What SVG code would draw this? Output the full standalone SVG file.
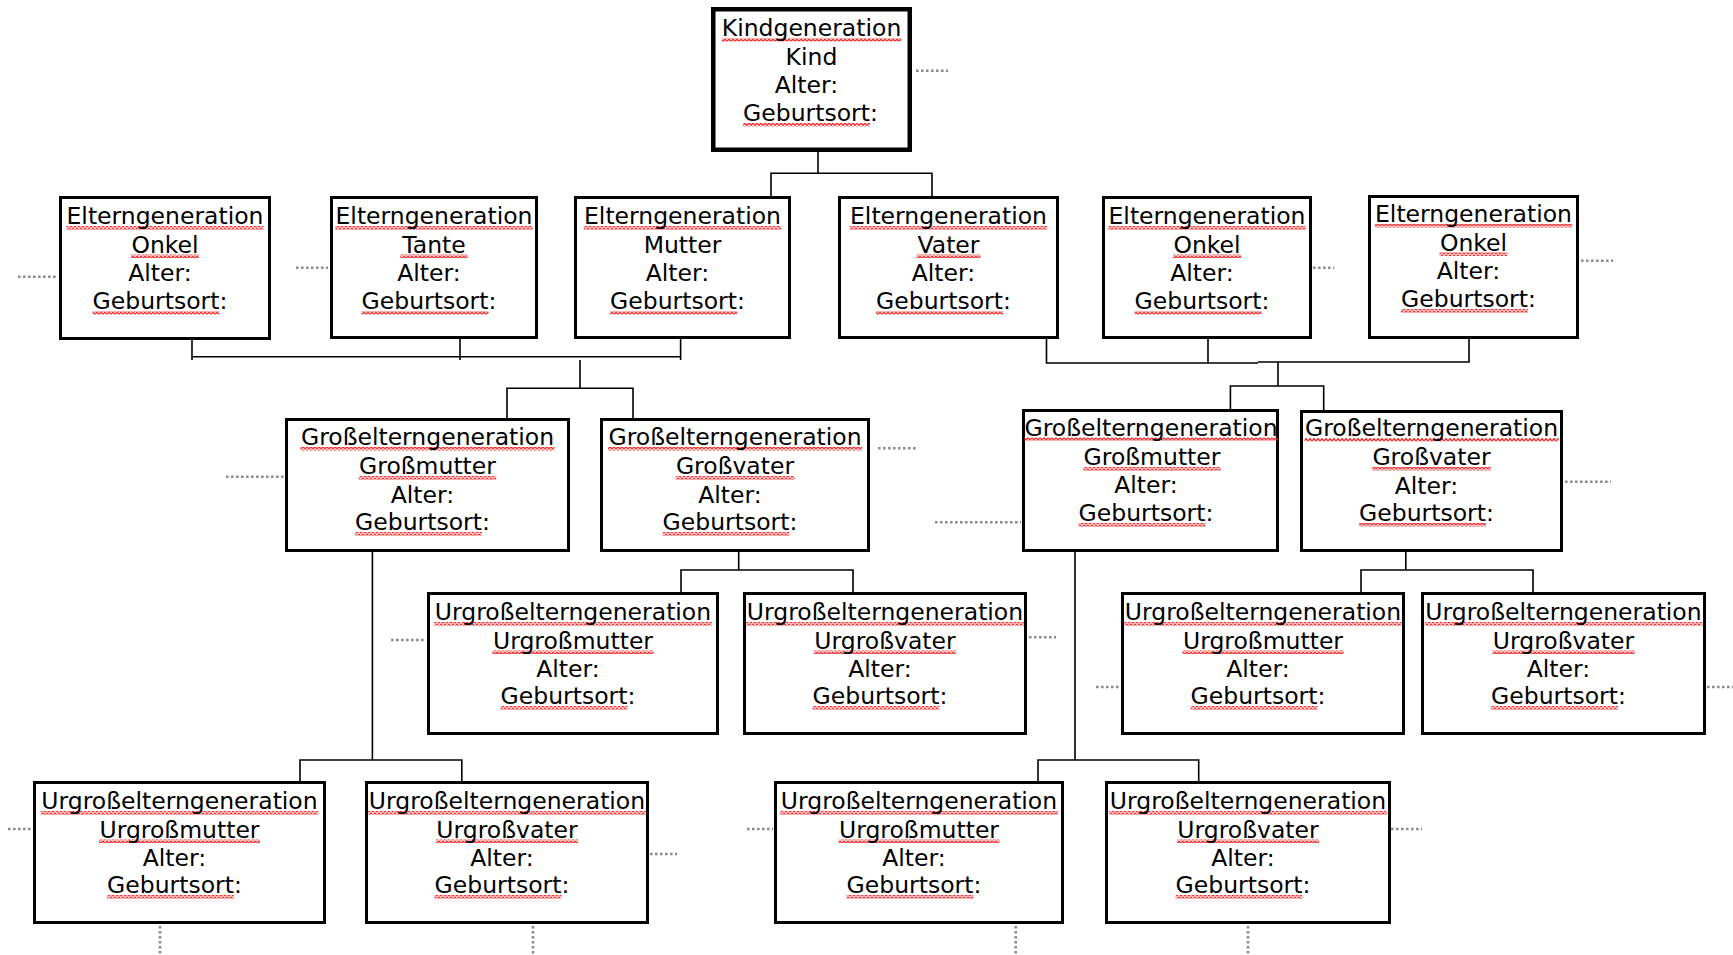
<svg xmlns="http://www.w3.org/2000/svg" width="1733" height="955" viewBox="0 0 1733 955">
<defs>
  <pattern id="wave" patternUnits="userSpaceOnUse" width="4" height="3.5">
    <polyline points="0,3 2,0.6 4,3" fill="none" stroke="#f01c1c" stroke-width="1.25"/>
  </pattern>
</defs>
<style>
.bg{fill:#fff}
.box{fill:#fff;stroke:#000;stroke-width:3}
.kbox{fill:#fff;stroke:#000;stroke-width:4.5}
.t{font-family:"DejaVu Sans",Verdana,sans-serif;font-size:23.5px;text-anchor:middle;fill:#000}
.w{fill:url(#wave)}
.con{fill:none;stroke:#000;stroke-width:1.6}
.dot{fill:none;stroke:#8c8c8c;stroke-width:2.6;stroke-dasharray:2.6 2.4}
</style>
<rect class="bg" x="0" y="0" width="1733" height="955"/>

<g id="connectors">
  <path class="con" d="M818 152V173.3M771 196V173.3H932V196"/>
  <path class="con" d="M192 340V360M460 339V360M680.6 339V360M192 356.7H680.6M580 360V388.3M507 418V388.3H633V418"/>
  <path class="con" d="M1046.5 339V363H1258M1208 339V363M1258 362H1469V339M1278 362V386M1230.4 410V386H1323.7V410"/>
  <path class="con" d="M372.4 552V760M300 781V760H461.8V781"/>
  <path class="con" d="M738.7 552V570M681 592V570H853V592"/>
  <path class="con" d="M1075 552V760M1038 781V760H1198.7V781"/>
  <path class="con" d="M1405.8 552V570M1361 592V570H1533V592"/>
</g>

<g id="dotted">
  <path class="dot" d="M916 70.7H948"/>
  <path class="dot" d="M18 276.7H58"/>
  <path class="dot" d="M296 267.7H328"/>
  <path class="dot" d="M1313 267.7H1334"/>
  <path class="dot" d="M1581 260.7H1613"/>
  <path class="dot" d="M226 476.7H284"/>
  <path class="dot" d="M878 448.3H917"/>
  <path class="dot" d="M935 522.3H1021"/>
  <path class="dot" d="M1565 481.7H1611"/>
  <path class="dot" d="M391 640H426"/>
  <path class="dot" d="M1029 637.3H1056"/>
  <path class="dot" d="M1096 687H1120"/>
  <path class="dot" d="M1707 687H1733"/>
  <path class="dot" d="M8 829H33"/>
  <path class="dot" d="M650 854H677"/>
  <path class="dot" d="M747 829H773"/>
  <path class="dot" d="M1391 829H1422"/>
  <path class="dot" d="M160 926V955"/>
  <path class="dot" d="M533 926V955"/>
  <path class="dot" d="M1015.7 926V955"/>
  <path class="dot" d="M1248 926V955"/>
</g>

<g id="kind" transform="translate(711,7)">
  <rect class="kbox" x="2.25" y="2.25" width="196.5" height="140.5"/>
  <rect class="w" x="10.7" y="31" width="179.6" height="3.5"/>
  <rect class="w" x="32.1" y="116" width="126.9" height="3.5"/>
  <text class="t" x="100.5" y="29">Kindgeneration</text>
  <text class="t" x="100.5" y="57.5">Kind</text>
  <text class="t" x="95.5" y="86">Alter:</text>
  <text class="t" x="99.5" y="114">Geburtsort:</text>
</g>

<g id="onkel1" transform="translate(59,196)">
  <rect class="box" x="1.5" y="1.5" width="209" height="141"/>
  <rect class="w" x="7.3" y="30" width="197.4" height="3.5"/>
  <rect class="w" x="72" y="58.5" width="68" height="3.5"/>
  <rect class="w" x="33.6" y="115" width="126.9" height="3.5"/>
  <text class="t" x="106" y="28">Elterngeneration</text>
  <text class="t" x="106" y="56.5">Onkel</text>
  <text class="t" x="101" y="85">Alter:</text>
  <text class="t" x="101" y="113">Geburtsort:</text>
</g>

<g id="tante" transform="translate(330,196)">
  <rect class="box" x="1.5" y="1.5" width="205" height="140"/>
  <rect class="w" x="5.3" y="30" width="197.4" height="3.5"/>
  <rect class="w" x="70.35" y="58.5" width="67.3" height="3.5"/>
  <rect class="w" x="31.6" y="115" width="126.9" height="3.5"/>
  <text class="t" x="104" y="28">Elterngeneration</text>
  <text class="t" x="104" y="56.5">Tante</text>
  <text class="t" x="99" y="85">Alter:</text>
  <text class="t" x="99" y="113">Geburtsort:</text>
</g>

<g id="mutter" transform="translate(574,196)">
  <rect class="box" x="1.5" y="1.5" width="214" height="140"/>
  <rect class="w" x="9.8" y="30" width="197.4" height="3.5"/>
  <rect class="w" x="36.1" y="115" width="126.9" height="3.5"/>
  <text class="t" x="108.5" y="28">Elterngeneration</text>
  <text class="t" x="108.5" y="56.5">Mutter</text>
  <text class="t" x="103.5" y="85">Alter:</text>
  <text class="t" x="103.5" y="113">Geburtsort:</text>
</g>

<g id="vater" transform="translate(838,196)">
  <rect class="box" x="1.5" y="1.5" width="218" height="140"/>
  <rect class="w" x="11.8" y="30" width="197.4" height="3.5"/>
  <rect class="w" x="78.6" y="58.5" width="63.8" height="3.5"/>
  <rect class="w" x="38.1" y="115" width="126.9" height="3.5"/>
  <text class="t" x="110.5" y="28">Elterngeneration</text>
  <text class="t" x="110.5" y="56.5">Vater</text>
  <text class="t" x="105.5" y="85">Alter:</text>
  <text class="t" x="105.5" y="113">Geburtsort:</text>
</g>

<g id="onkel2" transform="translate(1102,196)">
  <rect class="box" x="1.5" y="1.5" width="207" height="140"/>
  <rect class="w" x="6.3" y="30" width="197.4" height="3.5"/>
  <rect class="w" x="71" y="58.5" width="68" height="3.5"/>
  <rect class="w" x="32.6" y="115" width="126.9" height="3.5"/>
  <text class="t" x="105" y="28">Elterngeneration</text>
  <text class="t" x="105" y="56.5">Onkel</text>
  <text class="t" x="100" y="85">Alter:</text>
  <text class="t" x="100" y="113">Geburtsort:</text>
</g>

<g id="onkel3" transform="translate(1368,195)">
  <rect class="box" x="1.5" y="1.5" width="208" height="141"/>
  <rect class="w" x="6.8" y="29" width="197.4" height="3.5"/>
  <rect class="w" x="71.5" y="57.5" width="68" height="3.5"/>
  <rect class="w" x="33.1" y="114" width="126.9" height="3.5"/>
  <text class="t" x="105.5" y="27">Elterngeneration</text>
  <text class="t" x="105.5" y="55.5">Onkel</text>
  <text class="t" x="100.5" y="84">Alter:</text>
  <text class="t" x="100.5" y="112">Geburtsort:</text>
</g>

<g id="grossmutter-l" transform="translate(285,418)">
  <rect class="box" x="1.5" y="1.5" width="282" height="131"/>
  <rect class="w" x="15.45" y="29" width="254.1" height="3.5"/>
  <rect class="w" x="73.8" y="58" width="137.4" height="3.5"/>
  <rect class="w" x="70.1" y="114" width="126.9" height="3.5"/>
  <text class="t" x="142.5" y="27">Großelterngeneration</text>
  <text class="t" x="142.5" y="56">Großmutter</text>
  <text class="t" x="137.5" y="84.5">Alter:</text>
  <text class="t" x="137.5" y="112">Geburtsort:</text>
</g>

<g id="grossvater-l" transform="translate(600,418)">
  <rect class="box" x="1.5" y="1.5" width="267" height="131"/>
  <rect class="w" x="7.95" y="29" width="254.1" height="3.5"/>
  <rect class="w" x="75.65" y="58" width="118.7" height="3.5"/>
  <rect class="w" x="62.6" y="114" width="126.9" height="3.5"/>
  <text class="t" x="135" y="27">Großelterngeneration</text>
  <text class="t" x="135" y="56">Großvater</text>
  <text class="t" x="130" y="84.5">Alter:</text>
  <text class="t" x="130" y="112">Geburtsort:</text>
</g>

<g id="grossmutter-r" transform="translate(1022,409)">
  <rect class="box" x="1.5" y="1.5" width="254" height="140"/>
  <rect class="w" x="1.95" y="28.5" width="254.1" height="3.5"/>
  <rect class="w" x="61.3" y="58" width="137.4" height="3.5"/>
  <rect class="w" x="56.6" y="114" width="126.9" height="3.5"/>
  <text class="t" x="129" y="26.5">Großelterngeneration</text>
  <text class="t" x="130" y="56">Großmutter</text>
  <text class="t" x="124" y="84">Alter:</text>
  <text class="t" x="124" y="112">Geburtsort:</text>
</g>

<g id="grossvater-r" transform="translate(1300,410)">
  <rect class="box" x="1.5" y="1.5" width="260" height="139"/>
  <rect class="w" x="4.45" y="28" width="254.1" height="3.5"/>
  <rect class="w" x="72.15" y="57" width="118.7" height="3.5"/>
  <rect class="w" x="59.1" y="113" width="126.9" height="3.5"/>
  <text class="t" x="131.5" y="26">Großelterngeneration</text>
  <text class="t" x="131.5" y="55">Großvater</text>
  <text class="t" x="126.5" y="83.5">Alter:</text>
  <text class="t" x="126.5" y="111">Geburtsort:</text>
</g>

<g id="urgrossmutter-1" transform="translate(427,592)">
  <rect class="box" x="1.5" y="1.5" width="289" height="140"/>
  <rect class="w" x="7.15" y="30" width="277.7" height="3.5"/>
  <rect class="w" x="65.5" y="58.5" width="161" height="3.5"/>
  <rect class="w" x="73.6" y="114" width="126.9" height="3.5"/>
  <text class="t" x="146" y="28">Urgroßelterngeneration</text>
  <text class="t" x="146" y="56.5">Urgroßmutter</text>
  <text class="t" x="141" y="85">Alter:</text>
  <text class="t" x="141" y="112">Geburtsort:</text>
</g>

<g id="urgrossvater-1" transform="translate(743,592)">
  <rect class="box" x="1.5" y="1.5" width="281" height="140"/>
  <rect class="w" x="3.15" y="30" width="277.7" height="3.5"/>
  <rect class="w" x="70.85" y="58.5" width="142.3" height="3.5"/>
  <rect class="w" x="69.6" y="114" width="126.9" height="3.5"/>
  <text class="t" x="142" y="28">Urgroßelterngeneration</text>
  <text class="t" x="142" y="56.5">Urgroßvater</text>
  <text class="t" x="137" y="85">Alter:</text>
  <text class="t" x="137" y="112">Geburtsort:</text>
</g>

<g id="urgrossmutter-2" transform="translate(1121,592)">
  <rect class="box" x="1.5" y="1.5" width="281" height="140"/>
  <rect class="w" x="3.15" y="30" width="277.7" height="3.5"/>
  <rect class="w" x="61.5" y="58.5" width="161" height="3.5"/>
  <rect class="w" x="69.6" y="114" width="126.9" height="3.5"/>
  <text class="t" x="142" y="28">Urgroßelterngeneration</text>
  <text class="t" x="142" y="56.5">Urgroßmutter</text>
  <text class="t" x="137" y="85">Alter:</text>
  <text class="t" x="137" y="112">Geburtsort:</text>
</g>

<g id="urgrossvater-2" transform="translate(1421,592)">
  <rect class="box" x="1.5" y="1.5" width="282" height="140"/>
  <rect class="w" x="3.65" y="30" width="277.7" height="3.5"/>
  <rect class="w" x="71.35" y="58.5" width="142.3" height="3.5"/>
  <rect class="w" x="70.1" y="114" width="126.9" height="3.5"/>
  <text class="t" x="142.5" y="28">Urgroßelterngeneration</text>
  <text class="t" x="142.5" y="56.5">Urgroßvater</text>
  <text class="t" x="137.5" y="85">Alter:</text>
  <text class="t" x="137.5" y="112">Geburtsort:</text>
</g>

<g id="urgrossmutter-3" transform="translate(33,781)">
  <rect class="box" x="1.5" y="1.5" width="290" height="140"/>
  <rect class="w" x="7.65" y="30" width="277.7" height="3.5"/>
  <rect class="w" x="66" y="58.5" width="161" height="3.5"/>
  <rect class="w" x="74.1" y="114" width="126.9" height="3.5"/>
  <text class="t" x="146.5" y="28">Urgroßelterngeneration</text>
  <text class="t" x="146.5" y="56.5">Urgroßmutter</text>
  <text class="t" x="141.5" y="85">Alter:</text>
  <text class="t" x="141.5" y="112">Geburtsort:</text>
</g>

<g id="urgrossvater-3" transform="translate(365,781)">
  <rect class="box" x="1.5" y="1.5" width="281" height="140"/>
  <rect class="w" x="3.15" y="30" width="277.7" height="3.5"/>
  <rect class="w" x="70.85" y="58.5" width="142.3" height="3.5"/>
  <rect class="w" x="69.6" y="114" width="126.9" height="3.5"/>
  <text class="t" x="142" y="28">Urgroßelterngeneration</text>
  <text class="t" x="142" y="56.5">Urgroßvater</text>
  <text class="t" x="137" y="85">Alter:</text>
  <text class="t" x="137" y="112">Geburtsort:</text>
</g>

<g id="urgrossmutter-4" transform="translate(774,781)">
  <rect class="box" x="1.5" y="1.5" width="287" height="140"/>
  <rect class="w" x="6.15" y="30" width="277.7" height="3.5"/>
  <rect class="w" x="64.5" y="58.5" width="161" height="3.5"/>
  <rect class="w" x="72.6" y="114" width="126.9" height="3.5"/>
  <text class="t" x="145" y="28">Urgroßelterngeneration</text>
  <text class="t" x="145" y="56.5">Urgroßmutter</text>
  <text class="t" x="140" y="85">Alter:</text>
  <text class="t" x="140" y="112">Geburtsort:</text>
</g>

<g id="urgrossvater-4" transform="translate(1105,781)">
  <rect class="box" x="1.5" y="1.5" width="283" height="140"/>
  <rect class="w" x="4.15" y="30" width="277.7" height="3.5"/>
  <rect class="w" x="71.85" y="58.5" width="142.3" height="3.5"/>
  <rect class="w" x="70.6" y="114" width="126.9" height="3.5"/>
  <text class="t" x="143" y="28">Urgroßelterngeneration</text>
  <text class="t" x="143" y="56.5">Urgroßvater</text>
  <text class="t" x="138" y="85">Alter:</text>
  <text class="t" x="138" y="112">Geburtsort:</text>
</g>
</svg>
